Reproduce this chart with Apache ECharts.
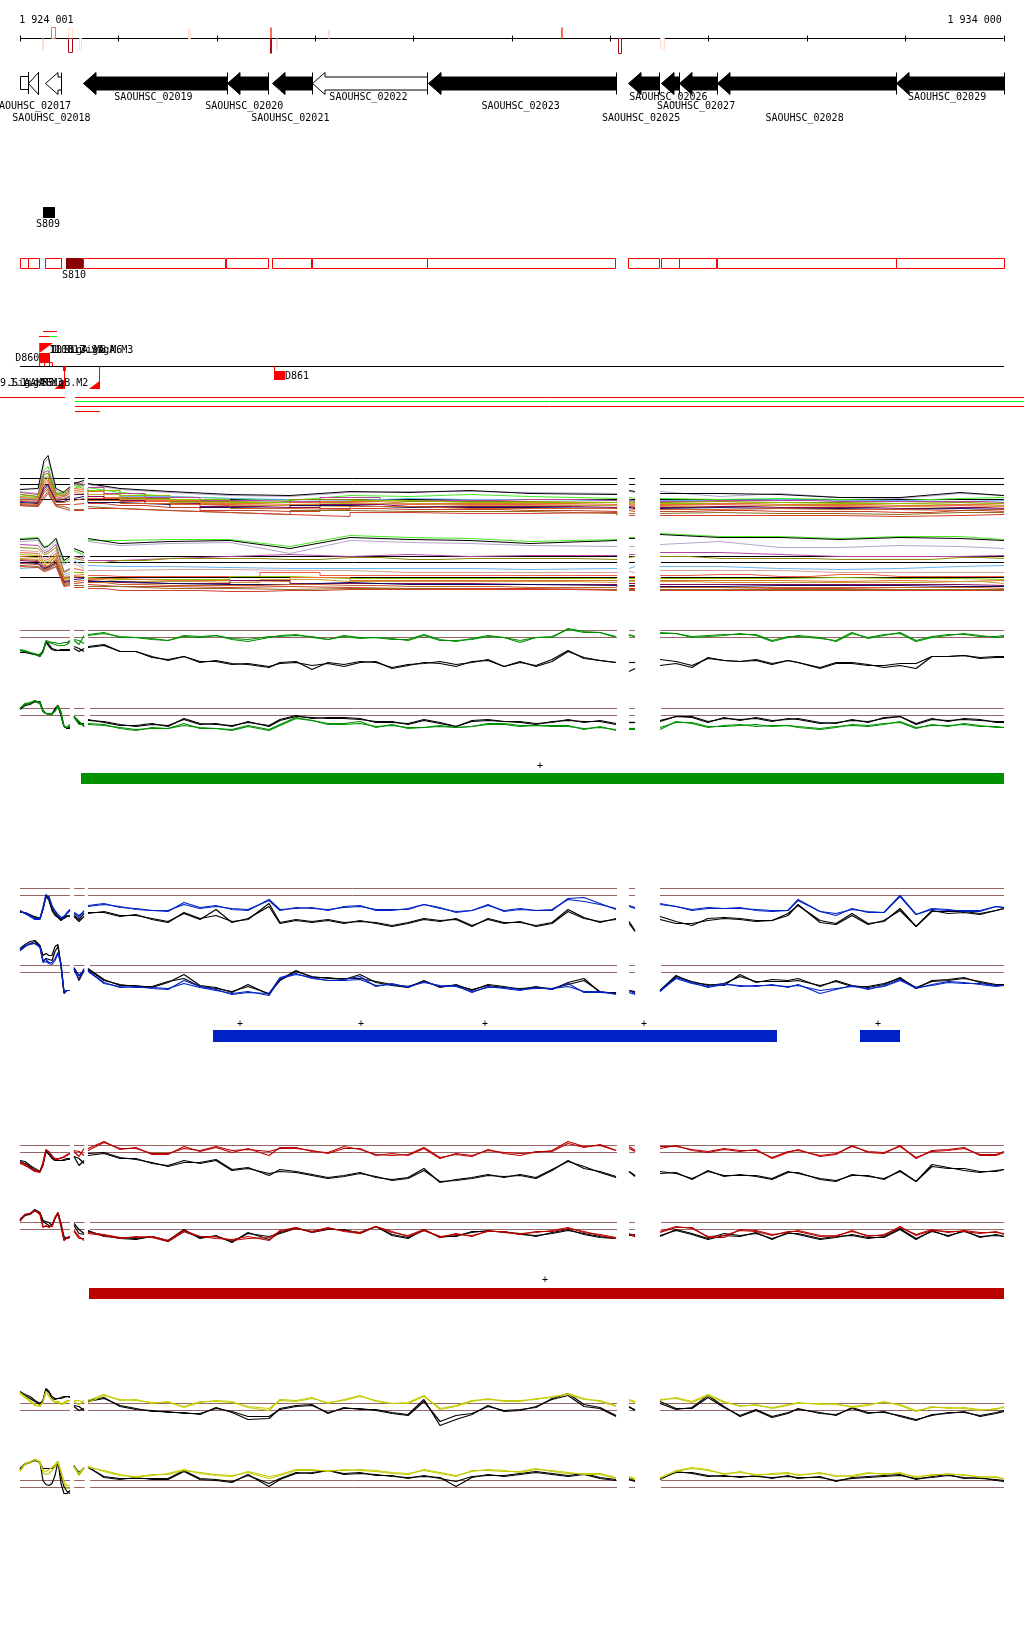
<!DOCTYPE html>
<html>
<head>
<meta charset="utf-8">
<style>
  html, body { margin: 0; padding: 0; background: #fff; }
  #main { width: 1024px; height: 1640px; }
</style>
<script src="https://cdn.jsdelivr.net/npm/echarts@6/dist/echarts.min.js"></script>
</head>
<body>
<div id="main"></div>
<script>
// all positions are bp offsets from 1 924 001
const rulerTicks = [0, 999, 1999, 2999, 3999, 4999, 5999, 6999, 7999, 8999, 9999]
const rulerLabels = ['1 924 001', '1 934 000']

// expression marks around the ruler: start, end, signed score
const solidStarts = [224, 2542, 2542, 2603, 3131, 5505]
const solidEnds = [239, 2562, 2562, 2623, 3152, 5526]
const solidScores = [-12, 11, -15, -11, 9, 11]
const solidLevels = [0, 1, 2, 0, 0, 1]
const hollowStarts = [320, 488, 493, 600, 1703, 6080, 6507]
const hollowEnds = [361, 524, 529, 625, 1728, 6110, 6548]
const hollowScores = [11, 10, -14, -12, 9, -15, -11]
const hollowLevels = [1, 0, 2, 0, 0, 2, 0]

const geneNames = ['SAOUHSC_02017', 'SAOUHSC_02018', 'SAOUHSC_02019', 'SAOUHSC_02020', 'SAOUHSC_02021', 'SAOUHSC_02022', 'SAOUHSC_02023', 'SAOUHSC_02025', 'SAOUHSC_02026', 'SAOUHSC_02027', 'SAOUHSC_02028', 'SAOUHSC_02029']
const geneLabelPos = [122, 320, 1357, 2280, 2748, 3543, 5089, 6314, 6593, 6873, 7976, 9425]
const geneLabelLane = [1, 2, 0, 1, 2, 0, 1, 2, 0, 1, 2, 0]
const geneStarts = [81, 254, 644, 2101, 2565, 2966, 4151, 6181, 6517, 6703, 7083, 8906]
const geneEnds = [188, 414, 2101, 2518, 2966, 4141, 6056, 6494, 6697, 7083, 8903, 10004]
const geneHollow = [1, 1, 0, 0, 0, 1, 0, 0, 0, 0, 0, 0]
const stubStart = [0]
const stubEnd = [81]

const operonStarts = [0, 81, 254, 640, 2090, 2565, 2966, 4141, 6181, 6517, 6703, 7083, 8906]
const operonEnds = [81, 188, 414, 2084, 2518, 2966, 4141, 6056, 6494, 6697, 7083, 8903, 10004]

const greenBarStart = [620]
const greenBarEnd = [10004]
const blueBarStart = [1962, 8540]
const blueBarEnd = [7696, 8947]
const redBarStart = [701]
const redBarEnd = [10004]
const greenPlus = [5287]
const bluePlus = [2237, 3467, 4728, 6344, 8723]
const redPlus = [5338]

// covered stretches of the profile tracks
const coverStarts = [0, 549, 691, 6192, 6507]
const coverEnds = [508, 657, 6070, 6253, 10004]
const coverStartsLow = [0, 549, 712, 6192, 6517]

const signalPos = [0, 51, 102, 152, 203, 234, 264, 295, 325, 356, 386, 417, 447, 478, 508,
  549, 600, 651,
  691, 854, 1017, 1179, 1342, 1505, 1667, 1830, 1993, 2155, 2318, 2532, 2643, 2806, 2969, 3131, 3294, 3457, 3619, 3782, 3945, 4107, 4270, 4433, 4595, 4758, 4921, 5084, 5246, 5409, 5572, 5734, 5897, 6060,
  6192, 6253,
  6507, 6670, 6832, 6995, 7158, 7320, 7483, 7646, 7808, 7910, 8134, 8296, 8459, 8622, 8784, 8947, 9110, 9272, 9435, 9598, 9760, 9923, 10004]
const signalBreaks = [15, 18, 52, 54]

const multiPos = [0, 183, 244, 285, 366, 447, 508,
  549, 651,
  691, 1017, 1525, 2135, 2745, 3355, 3965, 4575, 5185, 6070,
  6192, 6253,
  6507, 7117, 7727, 8337, 8947, 9557, 10004]
const multiBreaks = [7, 9, 19, 21]

const pairLevels = [40, 33]
const multiLevels = [40, 34, 19]

// condition 1, upper strand
const g1Color1 = [20,19,18,16,14,19,29,28,27,26,25,25,25,26,29, 31,30,27, 35,37,34,33,31,30,35,34,35,32,31,34,34,35,34,31,34,32,33,32,30,35,30,30,31,34,33,30,33,34,41,38,38,34, 36,34, 38,37,34,35,36,36,36,30,34,34,32,30,38,32,35,38,30,34,36,36,34,34,35]
const g1Color2 = [21,20,18,17,15,18,30,29,28,28,27,27,28,28,30, 30,26,35, 36,38,33,33,32,30,34,33,35,31,29,33,35,36,33,31,35,33,33,31,31,36,31,29,32,35,33,28,33,33,42,39,38,33, 35,34, 37,37,33,34,35,37,35,29,33,35,33,29,37,33,36,37,29,33,35,37,35,33,34]
const g1Black1 = [20,19,17,16,16,19,29,26,22,21,20,21,21,21,21, 24,22,19, 23,25,19,19,14,10,14,9,9,6,7,4,7,8,5,7,4,8,9,2,5,8,7,4,9,10,4,9,4,9,19,13,10,8, 8,8, 11,9,5,12,10,9,11,7,10,8,2,7,7,5,5,7,7,14,14,15,12,13,13]
const g1Black2 = [18,18,17,16,14,20,28,24,21,20,20,20,20,20,20, 22,19,22, 24,26,19,19,13,11,14,8,10,7,6,3,8,9,1,8,6,9,8,3,6,7,9,6,8,11,4,8,5,11,20,12,10,8, -1,2, 5,7,3,13,10,9,10,6,10,8,3,8,8,6,3,5,2,14,14,15,13,14,14]
// condition 1, lower strand
const g2Color1 = [40,45,46,48,45,37,35,34,34,38,42,35,22,21,24, 32,27,22, 24,23,21,19,20,20,23,21,20,18,22,18,23,30,28,24,24,25,22,23,21,21,22,21,22,24,24,22,23,22,22,20,21,19, 20,20, 21,26,26,22,22,23,24,22,23,22,20,22,23,22,24,27,21,23,23,24,22,22,21]
const g2Color2 = [40,44,45,48,46,37,35,35,35,37,43,37,22,21,22, 31,24,24, 25,24,20,18,21,20,25,20,20,19,23,19,24,31,28,25,25,27,21,24,20,21,23,21,22,25,25,23,23,23,23,19,22,18, 19,19, 19,27,25,21,23,24,22,23,23,21,19,21,24,23,25,26,20,24,22,25,23,21,21]
const g2Black1 = [39,43,44,47,47,38,35,34,34,40,43,33,22,20,20, 32,25,25, 28,27,24,22,24,23,29,24,25,22,27,22,28,32,31,30,30,29,27,27,24,28,25,22,27,28,27,26,24,27,28,27,27,24, 26,26, 28,32,32,27,30,29,30,27,30,29,25,26,28,27,30,32,24,29,28,29,28,27,27]
const g2Black2 = [40,44,45,47,45,37,35,35,35,39,43,34,22,21,21, 32,27,22, 29,26,23,23,25,22,30,25,24,23,26,23,29,33,30,31,31,30,26,26,25,29,26,22,28,29,27,27,25,26,29,26,28,25, 26,26, 27,32,31,26,31,28,31,28,29,30,26,25,29,26,31,32,25,30,27,30,29,26,26]

// condition 2
const b1Color1 = [17,15,12,9,9,20,33,32,22,17,13,10,12,15,18, 16,13,17, 22,24,22,19,18,18,24,20,22,20,19,28,18,21,20,19,21,22,19,19,19,24,20,17,18,23,18,20,18,19,29,27,24,20, 23,21, 24,22,19,21,20,20,19,18,18,28,17,15,19,17,16,32,14,19,18,18,18,22,21]
const b1Color2 = [17,16,13,10,10,21,34,31,23,18,14,11,12,16,19, 15,11,18, 23,25,21,20,18,17,26,21,23,19,18,29,19,20,21,18,22,23,18,18,20,24,21,16,18,24,17,19,18,18,30,31,25,19, 22,20, 25,22,18,20,20,21,18,17,18,29,17,13,20,16,16,33,14,20,19,17,17,22,21]
const b1Black1 = [18,15,13,12,10,20,33,30,20,15,12,9,10,12,13, 13,9,15, 15,17,13,13,10,7,15,9,19,6,10,22,5,8,6,8,5,8,5,2,5,9,7,10,3,9,5,7,2,5,17,10,7,9, 7,-2, 12,7,3,10,11,10,8,8,15,23,8,5,15,5,7,20,2,17,17,17,15,18,20]
const b1Black2 = [16,16,14,11,10,19,32,28,18,13,11,8,11,13,12, 12,7,12, 16,16,12,14,9,6,16,10,13,7,9,25,6,9,7,9,6,7,6,3,6,10,8,9,2,10,6,6,3,6,19,11,6,10, 5,-3, 9,5,5,8,10,9,7,8,13,24,6,4,13,4,8,18,2,18,15,16,14,18,20]
const b2Color1 = [56,60,61,62,59,45,46,43,43,47,53,42,14,15,15, 37,30,35, 35,22,19,18,18,17,22,18,15,12,14,10,27,31,28,25,25,26,20,21,19,23,20,19,14,18,18,16,17,17,19,14,14,11, 15,12, 15,27,22,19,22,19,20,20,19,20,15,17,19,17,19,25,18,20,23,22,22,20,20]
const b2Color2 = [55,59,62,62,58,43,44,42,41,45,52,42,13,15,15, 35,27,37, 34,23,18,19,17,16,25,19,16,11,13,12,28,32,27,25,26,29,19,22,18,24,19,20,13,19,17,15,18,16,22,13,13,12, 13,11, 14,28,23,18,21,20,19,21,18,21,12,16,20,16,20,26,17,21,24,23,21,19,20]
const b2Black1 = [57,61,64,65,60,50,52,50,50,59,61,40,12,15,15, 38,30,35, 36,25,21,19,19,24,27,19,17,14,19,12,25,34,29,27,27,27,24,21,19,24,19,20,16,20,18,17,18,17,21,25,14,12, 15,14, 15,29,24,20,22,29,24,24,24,25,20,24,19,19,22,27,18,24,25,27,24,21,21]
const b2Black2 = [55,59,62,64,59,44,47,46,45,54,59,39,14,15,15, 37,25,35, 37,26,20,20,18,23,31,20,18,13,21,11,26,35,28,28,26,31,23,20,18,25,18,21,15,21,19,16,19,16,23,27,13,13, 15,13, 15,30,23,21,20,31,23,26,25,27,19,25,20,18,21,28,17,25,26,28,23,20,21]

// condition 3
const r1Color1 = [22,20,17,14,13,22,35,34,29,27,27,27,29,30,32, 35,34,30, 35,43,37,37,32,32,37,35,39,35,36,34,37,37,35,32,37,37,30,32,30,37,27,32,30,35,33,32,33,35,44,39,40,35, 39,35, 39,39,36,34,37,35,35,28,34,35,30,32,39,34,33,39,28,34,35,37,31,31,34]
const r1Color2 = [23,21,18,15,14,23,36,33,30,26,26,28,28,31,32, 34,29,37, 37,44,36,38,31,31,39,34,38,33,37,30,38,38,34,33,39,36,31,30,31,38,28,31,29,36,32,30,34,34,42,38,41,35, 37,34, 37,40,35,33,36,34,36,27,33,36,29,31,40,33,32,40,27,35,36,38,30,30,33]
const r1Black1 = [25,24,20,17,14,22,35,32,28,25,25,25,26,27,27, 29,27,22, 30,32,27,27,22,20,25,22,25,15,17,12,14,13,10,7,9,12,9,5,7,15,4,5,7,10,9,10,7,15,25,17,14,9, 14,10, 14,12,7,14,10,10,10,7,14,12,7,5,10,10,6,15,4,19,17,17,14,14,16]
const r1Black2 = [24,22,19,15,14,20,34,31,27,25,25,25,25,26,26, 29,20,25, 32,33,28,26,23,19,23,23,26,16,18,10,16,14,11,8,10,13,8,6,8,17,3,6,8,11,8,11,8,16,24,19,13,8, 14,9, 12,13,6,15,9,11,9,6,13,13,6,4,11,9,7,14,4,21,18,15,13,15,16]
const r2Color1 = [42,48,49,52,49,36,36,36,36,44,49,37,22,25,26, 32,26,22, 29,27,24,26,25,21,31,26,26,22,24,25,31,34,31,35,31,29,36,31,26,32,26,28,27,31,31,28,31,31,34,31,27,24, 28,27, 31,36,34,26,27,32,31,27,31,31,26,27,31,27,27,36,27,32,31,31,29,31,28]
const r2Color2 = [41,48,49,52,48,35,37,35,37,45,50,38,22,25,26, 31,24,24, 30,28,25,25,26,22,32,26,24,23,26,22,32,35,30,34,32,30,36,30,27,33,25,29,26,32,30,29,30,32,35,30,28,25, 29,26, 30,35,35,25,25,33,32,28,30,32,27,26,32,26,28,35,28,33,30,32,30,30,29]
const r2Black1 = [43,48,49,53,50,42,41,40,37,45,50,39,26,24,25, 39,33,29, 31,27,24,23,26,21,31,25,26,21,29,26,29,34,31,34,32,30,36,28,25,32,26,26,31,31,31,28,27,29,32,29,26,24, 27,28, 26,33,29,24,29,27,29,24,29,29,24,26,27,24,26,34,24,31,27,31,26,27,26]
const r2Black2 = [42,47,48,52,49,41,39,37,36,44,49,36,24,24,26, 37,29,28, 32,26,25,24,26,22,33,24,27,20,30,23,30,35,30,33,33,29,36,27,24,33,25,27,30,32,30,29,26,30,33,28,25,24, 28,26, 27,32,28,23,27,26,30,23,30,28,23,25,28,25,25,33,23,32,26,32,25,28,26]

// condition 4
const y1Color1 = [51,47,43,39,38,42,52,48,43,42,42,40,41,43,43, 43,43,41, 41,48,44,43,41,41,37,42,42,41,37,35,43,42,45,41,43,47,43,40,40,47,35,38,43,44,43,43,44,47,49,44,43,38, 44,42, 44,45,41,48,41,38,38,36,39,40,40,39,37,39,41,39,33,36,36,35,33,35,36]
const y1Color2 = [50,46,42,38,37,41,52,47,44,41,41,39,40,42,43, 42,39,43, 43,49,43,44,40,42,36,41,43,42,36,33,44,43,46,40,44,48,42,40,41,48,34,37,42,45,42,42,45,46,50,45,42,37, 43,41, 43,46,42,49,42,37,39,35,38,41,39,40,36,38,42,38,32,37,35,36,34,34,37]
const y1Black1 = [52,49,47,43,40,43,55,52,47,45,45,46,47,47,47, 38,37,33, 42,45,38,35,32,32,30,30,35,32,27,27,34,37,38,31,35,35,33,30,28,42,22,28,30,37,33,34,36,45,50,39,36,28, 36,34, 42,35,35,46,36,28,34,27,31,34,31,28,36,31,31,28,24,28,31,31,28,31,33]
const y1Black2 = [51,48,45,42,39,43,54,51,45,44,45,45,46,47,46, 37,33,35, 43,46,37,34,33,31,31,29,36,31,24,25,35,38,39,30,36,34,34,31,29,44,18,24,29,38,32,33,37,44,48,37,35,27, 37,33, 40,34,36,48,37,27,33,26,30,35,30,29,35,30,32,27,23,29,30,32,27,30,32]
const y2Color1 = [50,57,59,61,59,50,49,51,53,56,59,49,39,35,35, 54,47,53, 54,49,45,44,46,46,50,48,46,45,48,42,45,50,50,50,50,51,50,48,47,50,47,44,50,50,49,49,52,49,47,47,47,43, 43,41, 43,49,52,50,47,48,46,46,47,46,47,45,44,47,47,47,44,45,47,45,44,43,42]
const y2Color2 = [49,56,58,61,58,48,46,47,50,54,58,48,37,32,32, 54,45,52, 53,50,46,43,45,47,51,47,45,44,49,44,46,51,51,49,51,50,49,47,46,51,48,45,49,51,50,48,51,50,48,46,46,42, 44,42, 42,50,53,51,46,49,45,47,48,45,48,44,45,48,46,48,43,46,46,46,43,44,41]
const y2Black1 = [51,57,58,61,58,40,36,35,37,45,59,37,27,27,30, 55,46,53, 53,44,42,42,42,42,50,42,41,39,45,37,42,48,47,50,47,48,45,45,42,45,42,39,44,45,45,47,49,47,45,47,43,41, 42,40, 42,48,48,45,44,44,44,43,44,43,43,40,42,43,44,45,42,43,45,43,42,41,40]
const y2Black2 = [52,56,58,60,58,52,52,52,52,54,58,45,34,29,27, 54,48,52, 54,43,41,43,41,41,49,41,40,38,46,34,41,47,48,50,46,47,46,44,43,44,43,34,43,46,44,46,48,46,44,46,42,40, 41,39, 41,49,47,44,45,43,45,42,45,42,44,39,43,44,45,46,41,44,46,42,43,40,39]

// many-sample tracks, upper
const mtBlack = [29,30,58,63,30,26,32, 35,38, 35,30,27,24,23,27,26,28,25,24, 28,27, 25,25,24,21,21,26,23]
const mtLavender = [27,25,55,60,28,24,30, 34,36, 34,29,26,23,22,26,27,27,26,25, 27,26, 27,22,25,21,20,25,23]
const mtLime = [24,22,48,52,26,24,28, 30,34, 31,26,22,20,18,23,22,24,22,20, 21,20, 20,19,20,19,18,20,21]
const mtSky = [20,19,42,40,20,20,26, 34,32, 28,22,20,19,18,20,19,19,18,17, 18,18, 18,19,18,18,17,18,18]
const mtMagenta = [26,24,46,48,25,22,30, 36,34, 31,25,21,18,17,21,18,18,19,18, 19,17, 17,18,18,17,17,17,16]
const mtOlive = [24,22,44,45,24,27,31, 35,33, 30,24,20,17,16,19,17,17,17,16, 17,16, 16,17,16,16,15,16,15]
const mtLeaf = [22,21,40,42,23,25,28, 33,30, 28,23,19,16,15,18,16,16,16,15, 16,15, 15,16,15,15,14,15,14]
const mtOrange = [21,20,38,40,22,23,27, 30,29, 27,21,18,15,14,17,15,15,15,14, 15,14, 14,15,14,14,13,14,13]
const mtTomato = [19,18,36,38,20,22,25, 28,27, 25,20,17,14,13,16,14,14,14,13, 14,13, 13,14,13,13,12,13,12]
const mtTan = [18,17,34,36,19,20,23, 26,25, 24,19,16,13,12,15,13,13,13,12, 13,12, 12,13,12,12,11,12,11]
const mtPurple = [17,16,32,34,18,19,22, 24,24, 22,18,15,12,11,14,12,12,12,11, 12,11, 11,12,11,11,10,11,10]
const mtNavy = [16,15,30,33,17,17,20, 20,22, 20,16,14,11,10,13,11,11,11,10, 11,10, 10,11,10,10,9,10,9]
const mtRust = [15,14,28,31,16,16,18, 18,20, 18,15,13,10,9,12,10,10,10,9, 10,9, 9,10,9,9,8,9,8]
const mtBrick = [14,13,26,29,14,14,14, 14,15, 15,13,11,8,7,10,9,9,8,7, 8,7, 7,8,7,7,6,8,7]
const mtBrown = [13,12,22,27,13,12,10, 9,9, 12,10,8,6,4,8,7,7,7,5, 5,5, 5,6,5,5,4,6,6]
const mtRed = [13,12,20,25,12,10,8, 8,8, 10,8,6,4,2,6,5,5,6,3, 3,3, 3,3,3,2,3,4,5]

// many-sample tracks, lower
const mbBlack = [57,58,49,50,58,36,40, 48,44, 58,53,55,56,48,59,57,56,53,56, 58,58, 62,59,59,57,59,58,56]
const mbLime = [58,59,50,51,58,34,38, 46,42, 56,56,57,57,50,61,59,58,55,57, 59,59, 63,60,60,58,60,60,57]
const mbLavender = [55,56,46,47,55,32,36, 46,40, 55,51,53,54,43,56,54,53,51,50, 50,50, 52,55,49,49,51,50,48]
const mbMagenta = [52,51,44,45,52,25,28, 40,38, 36,38,40,42,40,42,40,41,41,40, 42,42, 44,42,40,40,40,41,40]
const mbOlive = [49,48,42,43,49,24,27, 38,36, 34,36,38,38,37,39,37,38,38,37, 39,40, 40,38,38,37,37,39,38]
const mbSky = [28,29,28,28,29,22,24, 36,30, 31,30,30,29,28,28,28,28,27,28, 28,30, 30,30,28,27,28,30,31]
const mbPeach = [46,45,38,39,46,20,22, 33,28, 26,27,27,26,26,24,24,24,24,23, 25,24, 26,26,24,24,24,24,24]
const mbTomato = [44,43,36,37,43,19,20, 28,26, 21,20,20,20,24,21,21,21,21,21, 20,20, 21,22,20,22,20,20,20]
const mbLeaf = [42,41,34,35,41,18,19, 24,24, 19,17,17,17,20,18,18,18,18,18, 18,18, 18,18,18,19,18,18,17]
const mbOrange = [40,39,32,33,40,17,18, 21,22, 18,16,16,15,19,16,16,16,16,15, 16,16, 16,16,15,16,15,16,15]
const mbTan = [38,37,30,31,38,16,17, 20,20, 17,15,15,14,17,15,15,15,15,14, 15,15, 15,14,14,14,14,15,13]
const mbPurple = [36,35,29,30,36,15,16, 19,19, 16,14,13,13,16,13,13,13,12,12, 13,13, 12,12,12,12,12,12,11]
const mbNavy = [34,33,28,29,34,14,15, 17,18, 15,13,12,12,14,12,12,12,11,10, 11,11, 10,11,11,11,10,10,10]
const mbRust = [37,36,31,30,37,13,14, 15,16, 14,12,11,11,12,11,10,10,9,9, 10,10, 9,9,9,9,9,9,8]
const mbBrick = [33,32,27,28,33,12,13, 13,14, 12,10,10,9,10,9,8,8,8,7, 8,8, 7,7,8,8,7,7,7]
const mbBrown = [31,30,26,27,32,11,12, 11,11, 10,8,8,7,8,8,7,7,7,7, 7,7, 7,7,7,7,7,7,7]
const mbRed = [30,29,25,26,30,10,11, 9,9, 8,6,6,5,6,7,7,7,7,6, 6,6, 6,6,6,6,6,6,6]

// ---- layout ----
const PX_PER_BP = 983.5 / 9999
const X_MIN = -20 / PX_PER_BP
const X_MAX = (1024 - 20) / PX_PER_BP
const THIN = '#996666'
const MONO = '10px "DejaVu Sans Mono", "Liberation Mono", monospace'
const GREEN = '#009100'
const BLUE = '#0022c4'
const RED = '#bb0000'
const YELLOW = '#c4cc00'
const HEAT = ['#fde0d2', '#fb6a4a', '#a50f15']
const STEPS = ['middle', 'start', 'end']

const palette = {
  black: '#000000', lavender: '#b8a6cc', lime: '#44ee22', sky: '#6cb4ee', magenta: '#b5459b',
  olive: '#8a8a00', leaf: '#8cc000', orange: '#e2742a', tomato: '#f25c44', tan: '#c9a040',
  purple: '#8a0a5a', navy: '#101060', rust: '#c8642a', brick: '#c8402a', brown: '#8a7020', red: '#d04030'
}
const curveColors = [palette.black, palette.lavender, palette.lime]

const pairPanel = (top, low, color, rows) => ({ top, low, color, rows, levels: pairLevels, thin: THIN, pos: signalPos, breaks: signalBreaks })
const panels = [
  { top: 478.5, low: false, levels: multiLevels, thin: '#000', pos: multiPos, breaks: multiBreaks, stepped: true,
    rows: [[mtLavender, palette.lavender], [mtLime, palette.lime], [mtSky, palette.sky], [mtMagenta, palette.magenta], [mtOlive, palette.olive], [mtLeaf, palette.leaf], [mtOrange, palette.orange], [mtTomato, palette.tomato], [mtTan, palette.tan], [mtPurple, palette.purple], [mtNavy, palette.navy], [mtRust, palette.rust], [mtBrick, palette.brick], [mtBrown, palette.brown], [mtRed, palette.red], [mtBlack, palette.black]] },
  { top: 556.5, low: true, levels: multiLevels, thin: '#000', pos: multiPos, breaks: multiBreaks, stepped: true,
    rows: [[mbLavender, palette.lavender], [mbLime, palette.lime], [mbMagenta, palette.magenta], [mbOlive, palette.olive], [mbSky, palette.sky], [mbPeach, '#dba39a'], [mbTomato, palette.tomato], [mbLeaf, palette.leaf], [mbOrange, palette.orange], [mbTan, palette.tan], [mbPurple, palette.purple], [mbNavy, palette.navy], [mbRust, palette.rust], [mbBrick, palette.brick], [mbBrown, palette.brown], [mbRed, palette.red], [mbBlack, palette.black]] },
  pairPanel(630.5, false, GREEN, [g1Black1, g1Black2, g1Color1, g1Color2]),
  pairPanel(708.5, true, GREEN, [g2Black1, g2Black2, g2Color1, g2Color2]),
  pairPanel(888.5, false, BLUE, [b1Black1, b1Black2, b1Color1, b1Color2]),
  pairPanel(965.5, true, BLUE, [b2Black1, b2Black2, b2Color1, b2Color2]),
  pairPanel(1145.5, false, RED, [r1Black1, r1Black2, r1Color1, r1Color2]),
  pairPanel(1222.5, true, RED, [r2Black1, r2Black2, r2Color1, r2Color2]),
  pairPanel(1403.5, false, YELLOW, [y1Black1, y1Black2, y1Color1, y1Color2]),
  pairPanel(1480.5, true, YELLOW, [y2Black1, y2Black2, y2Color1, y2Color2])
]

const grids = [{ left: 0, right: 0, top: 0, height: 1640 }]
const xAxes = [{ type: 'value', min: X_MIN, max: X_MAX, show: false, gridIndex: 0 }]
const yAxes = [{ type: 'value', min: 0, max: 1640, inverse: true, show: false, gridIndex: 0 }]
const series = []

// a custom series on the whole-page axes
function page (data, renderItem, z) {
  series.push({ type: 'custom', coordinateSystem: 'cartesian2d', xAxisIndex: 0, yAxisIndex: 0, silent: true, clip: false, animation: false, data, renderItem, z: z || 2 })
}

function boxes (starts, ends, top, bottom, fill, stroke) {
  page(starts.map((s, i) => [s, ends[i]]), (params, api) => {
    const a = api.coord([api.value(0), top])
    const b = api.coord([api.value(1), bottom])
    const off = stroke ? 0.5 : 0
    return { type: 'rect', shape: { x: Math.round(a[0]) + off, y: Math.round(a[1]) + off, width: Math.round(b[0] - a[0]), height: Math.round(b[1] - a[1]) }, style: { fill: fill, stroke: stroke || null, lineWidth: 1 } }
  })
}

function hline (start, end, row, color) {
  page([[start, end]], (params, api) => {
    const a = api.coord([api.value(0), row])
    const b = api.coord([api.value(1), row])
    return { type: 'line', shape: { x1: a[0], y1: a[1], x2: b[0], y2: b[1] }, style: { stroke: color, lineWidth: 1 } }
  })
}

function vline (at, top, bottom, color) {
  page([[at]], (params, api) => {
    const a = api.coord([api.value(0), top])
    const b = api.coord([api.value(0), bottom])
    const x = Math.round(a[0]) + 0.5
    return { type: 'line', shape: { x1: x, y1: a[1], x2: x, y2: b[1] }, style: { stroke: color, lineWidth: 1 } }
  })
}

function texts (items, row, align) {
  page(items.map(t => [t[0]]), (params, api) => {
    const a = api.coord([api.value(0), row])
    return { type: 'text', style: { x: a[0], y: a[1], text: items[params.dataIndex][1], font: MONO, fill: '#000', align: align || 'center', verticalAlign: 'middle' } }
  }, 5)
}

function wedge (x1, x2, xCorner, top, bottom, yApex) {
  page([[x1, x2, xCorner]], (params, api) => {
    const p1 = api.coord([api.value(0), top === yApex ? top : bottom])
    const p2 = api.coord([api.value(1), top === yApex ? top : bottom])
    const p3 = api.coord([api.value(2), top === yApex ? bottom : top])
    return { type: 'polygon', shape: { points: [p1, p2, p3] }, style: { fill: '#ff0000' } }
  })
}

// ruler
const RULER = 38.5
hline(0, 9999, RULER, '#000')
page(rulerTicks.map(t => [t]), (params, api) => {
  const a = api.coord([api.value(0), RULER])
  const x = Math.round(a[0]) + 0.5
  return { type: 'line', shape: { x1: x, y1: a[1] - 3, x2: x, y2: a[1] + 3 }, style: { stroke: '#000', lineWidth: 1 } }
})
texts([[-7, rulerLabels[0]]], 20, 'left')
texts([[9981, rulerLabels[1]]], 20, 'right')

function marks (starts, ends, scores, levels, solid) {
  page(starts.map((s, i) => [s, ends[i], scores[i], levels[i]]), (params, api) => {
    const a = api.coord([api.value(0), RULER])
    const b = api.coord([api.value(1), RULER - api.value(2)])
    const color = HEAT[api.value(3)]
    const y0 = Math.min(a[1], b[1])
    const h = Math.abs(b[1] - a[1])
    const x = Math.round(a[0])
    const w = Math.max(2, Math.round(b[0] - a[0]))
    return solid
      ? { type: 'rect', shape: { x, y: y0, width: w, height: h }, style: { fill: color } }
      : { type: 'rect', shape: { x: x + 0.5, y: y0, width: w, height: h }, style: { fill: '#fff', stroke: color, lineWidth: 1 } }
  }, 3)
}
marks(hollowStarts, hollowEnds, hollowScores, hollowLevels, false)
marks(solidStarts, solidEnds, solidScores, solidLevels, true)

// genes
const GENE = 83
const GENE_LANES = [97, 106, 118]
page(geneStarts.map((s, i) => [s, geneEnds[i], geneHollow[i]]), (params, api) => {
  const c = api.coord([api.value(0), GENE])
  const e = api.coord([api.value(1), GENE])
  const x0 = Math.round(c[0]) + 0.5
  const x1 = Math.round(e[0]) + 0.5
  const yc = c[1] + 0.5
  const head = Math.min(12.5, x1 - x0)
  const hollow = api.value(2) === 1
  return {
    type: 'group',
    children: [
      { type: 'polygon', shape: { points: [[x0, yc], [x0 + head, yc - 11], [x0 + head, yc - 6.5], [x1, yc - 6.5], [x1, yc + 6.5], [x0 + head, yc + 6.5], [x0 + head, yc + 11]] }, style: { fill: hollow ? '#fff' : '#000', stroke: '#000', lineWidth: 1 } },
      { type: 'line', shape: { x1, y1: yc - 11, x2: x1, y2: yc + 11 }, style: { stroke: '#000', lineWidth: 1 } }
    ]
  }
})
boxes(stubStart, stubEnd, GENE - 7, GENE + 6, '#fff', '#000')
vline(stubEnd[0], GENE - 11, GENE + 11, '#000')
geneNames.forEach((name, i) => texts([[geneLabelPos[i], name]], GENE_LANES[geneLabelLane[i]]))

// S809 / S810 segments
boxes([234], [356], 207, 218, '#000')
texts([[285, 'S809']], 224)
boxes(operonStarts, operonEnds, 258, 268, '#fff', '#ff0000')
boxes([468], [640], 258, 269, '#8b0000')
texts([[549, 'S810']], 275)

// transcription signal hits
hline(234, 376, 331.5, '#ff0000')
hline(193, 295, 336.5, '#ff0000')
hline(295, 376, 336.5, '#00ff00')
wedge(196, 336, 196, 343, 353, 343)
boxes([196], [305], 353, 362, '#ff0000')
boxes([193, 244, 295], [244, 295, 325], 362, 366, '#fff', '#ff0000')
hline(0, 10004, 366.5, '#000')
boxes([437], [468], 366, 371, '#ff0000')
vline(447, 366, 389, '#ff0000')
wedge(351, 447, 447, 380, 389, 389)
vline(808, 366, 389, '#ff0000')
wedge(701, 808, 808, 381, 389, 389)
vline(2582, 366, 371, '#ff0000')
boxes([2582], [2694], 371, 380, '#ff0000')
texts([[196, 'D860']], 358, 'right')
texts([[2694, 'D861']], 376, 'left')
texts([[295, '110017.SigA.M3'], [305, '1018.3igA.M6'], [325, '1.SigA.M8']], 350, 'left')
texts([[-203, '9.SigA.M5'], [-112, 'J.1igA.M3'], [40, 'A.M5'], [204, '.SigB.M2']], 383, 'left')
hline(X_MIN, 457, 397.5, '#ff0000')
hline(559, X_MAX, 397.5, '#ff0000')
hline(559, X_MAX, 401.5, '#00ff00')
hline(559, X_MAX, 406.5, '#ff0000')
hline(559, 814, 411.5, '#ff0000')

// region bars
boxes(greenBarStart, greenBarEnd, 773, 784, GREEN)
boxes(blueBarStart, blueBarEnd, 1030, 1042, BLUE)
boxes(redBarStart, redBarEnd, 1288, 1299, RED)
texts(greenPlus.map(p => [p, '+']), 766)
texts(bluePlus.map(p => [p, '+']), 1024)
texts(redPlus.map(p => [p, '+']), 1280)

// profile tracks, one grid each. value 40 is the top reference line
panels.forEach((panel, idx) => {
  const g = idx + 1
  grids.push({ left: 0, right: 0, top: panel.top - 40, height: 100 })
  xAxes.push({ type: 'value', min: X_MIN, max: X_MAX, show: false, gridIndex: g })
  yAxes.push({ type: 'value', min: -20, max: 80, show: false, gridIndex: g })
  const starts = panel.low ? coverStartsLow : coverStarts
  panel.levels.forEach(level => {
    const data = []
    starts.forEach((s, i) => { data.push([s, level], [coverEnds[i], level], [coverEnds[i], null]) })
    series.push({ type: 'line', xAxisIndex: g, yAxisIndex: g, data, symbol: 'none', silent: true, animation: false, lineStyle: { color: panel.thin, width: 1 }, z: 2 })
  })
  const rows = panel.color
    ? panel.rows.map((v, i) => [v, i < 2 ? '#000' : panel.color])
    : panel.rows
  const cuts = [0, ...panel.breaks, panel.pos.length]
  rows.forEach(([values, color], r) => {
    // each covered stretch is its own series so nothing bridges the gaps
    for (let seg = 0; seg < cuts.length - 1; seg++) {
      const data = []
      for (let i = cuts[seg]; i < cuts[seg + 1]; i++) data.push([panel.pos[i], values[i]])
      const blocky = panel.stepped && (seg === 2 || seg === 4) && !curveColors.includes(color)
      series.push({ type: 'line', xAxisIndex: g, yAxisIndex: g, data, symbol: 'none', silent: true, animation: false, step: blocky ? STEPS[r % 3] : false, lineStyle: { color, width: panel.stepped ? 1 : 1.2 }, z: 3 })
    }
  })
})

const chart = echarts.init(document.getElementById('main'), null, { renderer: 'canvas' })
chart.setOption({
  animation: false,
  backgroundColor: '#fff',
  tooltip: { show: false },
  grid: grids,
  xAxis: xAxes,
  yAxis: yAxes,
  series
})
</script>
</body>
</html>
